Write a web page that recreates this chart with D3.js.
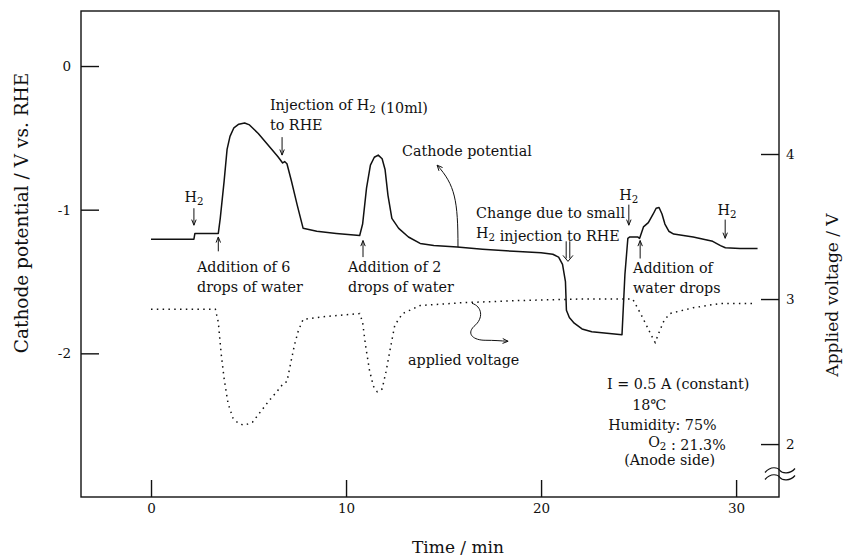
<!DOCTYPE html>
<html>
<head>
<meta charset="utf-8">
<script src="https://cdn.jsdelivr.net/npm/d3@7"></script>
<style>
  html, body { margin: 0; padding: 0; background: #fff; }
  svg { display: block; }
  text { font-family: "DejaVu Serif", "Liberation Serif", serif; fill: #111; }
</style>
</head>
<body>
<svg id="chart" width="845" height="558"></svg>
<script>
// ---------------- data ----------------
// Cathode potential (V vs. RHE), left axis
const cathodeTime = [0, 2.2, 2.25, 3.45, 3.55, 3.75, 3.9, 4.05, 4.25, 4.5, 4.8, 5.05, 5.5, 6.0, 6.5, 6.75, 6.85, 6.97, 7.2, 7.5, 7.8, 8.5, 9.5, 10.7, 10.85, 11.05, 11.25, 11.45, 11.65, 11.85, 12.0, 12.15, 12.35, 12.7, 13.2, 13.8, 14.5, 15.7, 17, 18.6, 20, 20.6, 20.9, 21.1, 21.25, 21.3, 21.45, 21.7, 22.1, 22.6, 24.15, 24.3, 24.45, 24.55, 24.95, 25.05, 25.15, 25.25, 25.5, 25.75, 25.9, 26.05, 26.2, 26.35, 26.55, 26.8, 27.8, 28.8, 29.2, 29.45, 30.2, 31.1];
const cathodeValue = [-1.205, -1.205, -1.165, -1.165, -1.06, -0.8, -0.58, -0.49, -0.43, -0.405, -0.397, -0.41, -0.47, -0.55, -0.63, -0.675, -0.665, -0.68, -0.8, -0.97, -1.13, -1.15, -1.165, -1.18, -1.1, -0.85, -0.69, -0.635, -0.62, -0.645, -0.72, -0.9, -1.06, -1.13, -1.19, -1.235, -1.25, -1.26, -1.275, -1.29, -1.3, -1.31, -1.33, -1.38, -1.5, -1.7, -1.75, -1.79, -1.83, -1.85, -1.87, -1.45, -1.2, -1.19, -1.19, -1.2, -1.16, -1.12, -1.09, -1.03, -0.99, -0.985, -1.03, -1.1, -1.15, -1.17, -1.19, -1.22, -1.25, -1.265, -1.27, -1.27];

// Applied voltage (V), right axis
const voltageTime = [0, 3.3, 3.45, 3.6, 3.75, 3.95, 4.2, 4.5, 4.8, 5.2, 5.6, 6.0, 6.5, 6.8, 6.97, 7.15, 7.35, 7.55, 7.8, 9, 10.7, 10.85, 11.0, 11.2, 11.4, 11.6, 11.85, 12.05, 12.3, 12.5, 12.9, 13.8, 16, 19, 22, 24.7, 25.1, 25.4, 25.65, 25.85, 26.05, 26.3, 26.6, 27.8, 29.2, 30.9];
const voltageValue = [2.93, 2.93, 2.84, 2.62, 2.45, 2.28, 2.18, 2.14, 2.13, 2.15, 2.22, 2.29, 2.37, 2.42, 2.43, 2.55, 2.68, 2.78, 2.86, 2.88, 2.9, 2.84, 2.68, 2.51, 2.4, 2.36, 2.38, 2.5, 2.68, 2.82, 2.9, 2.955, 2.975, 2.99, 3.0, 3.0, 2.9, 2.82, 2.75, 2.7, 2.77, 2.85, 2.9, 2.94, 2.97, 2.97];

// tick values
const xTicks = [0, 10, 20, 30];
const leftTicks = [0, -1, -2];
const rightTicks = [2, 3, 4];

// axis titles
const xTitle = "Time / min";
const leftTitle = "Cathode potential / V vs. RHE";
const rightTitle = "Applied voltage / V";

// annotation texts (placed in data coordinates, left axis); "_2" marks a subscript
const noteTexts = [
  { lines: ["H_2"], t: 2.2, v: -0.948, anchor: "middle" },
  { lines: ["Addition of 6", "drops of water"], t: 2.36, v: -1.436, anchor: "start" },
  { lines: ["Injection of H_2 (10ml)", "to RHE"], t: 6.1, v: -0.307, anchor: "start" },
  { lines: ["Cathode potential"], t: 12.87, v: -0.627, anchor: "start" },
  { lines: ["Addition of 2", "drops of water"], t: 10.1, v: -1.436, anchor: "start" },
  { lines: ["Change due to small", "H_2 injection to RHE"], t: 16.67, v: -1.059, anchor: "start" },
  { lines: ["H_2"], t: 24.5, v: -0.934, anchor: "middle" },
  { lines: ["Addition of", "water drops"], t: 24.72, v: -1.443, anchor: "start" },
  { lines: ["H_2"], t: 29.54, v: -1.038, anchor: "middle" },
  { lines: ["applied voltage"], t: 13.18, v: -2.084, anchor: "start" }
];
const conditionLines = [
  { text: "I = 0.5 A (constant)", t: 23.38, v: -2.251 },
  { text: "18℃", t: 24.67, v: -2.397 },
  { text: "Humidity: 75%", t: 23.44, v: -2.537 },
  { text: "O_2 : 21.3%", t: 25.49, v: -2.655 },
  { text: "(Anode side)", t: 24.26, v: -2.78 }
];
// straight arrows: from (t1,v1) to (t2,v2), head at the end
const arrows = [
  { t1: 2.2, v1: -0.99, t2: 2.2, v2: -1.108 },
  { t1: 3.45, v1: -1.29, t2: 3.45, v2: -1.19 },
  { t1: 6.72, v1: -0.495, t2: 6.72, v2: -0.62 },
  { t1: 10.87, v1: -1.33, t2: 10.87, v2: -1.215 },
  { t1: 24.5, v1: -0.965, t2: 24.5, v2: -1.108 },
  { t1: 25.08, v1: -1.34, t2: 25.08, v2: -1.215 },
  { t1: 29.44, v1: -1.069, t2: 29.44, v2: -1.199 }
];
const doubleArrows = [ { t: 21.38, v1: -1.22, v2: -1.36 } ];
// curved pointer arrows (cubic Bezier chains, data coordinates)
const curvedArrows = [
  [[15.74, -1.261], [15.74, -0.934], [15.59, -0.829], [14.67, -0.690]],
  [[16.46, -1.652], [16.97, -1.672], [17.08, -1.756], [16.56, -1.812],
   [16.15, -1.868], [16.56, -1.909], [17.13, -1.909],
   [17.6, -1.909], [17.9, -1.913], [18.31, -1.916]]
];

// ---------------- drawing ----------------
const svg = d3.select("#chart");
svg.append("rect").attr("width", 845).attr("height", 558).attr("fill", "#fff");

const mLeft = 81, mRight = 779, mTop = 11, mBottom = 497;
const x = d3.scaleLinear().domain([-3.59, 32.2]).range([mLeft, mRight]);
const yL = d3.scaleLinear().domain([-3.0, 0.383]).range([mBottom, mTop]);
const yR = d3.scaleLinear().domain([1.635, 4.986]).range([mBottom, mTop]);

const ink = "#111";

// frame
svg.append("rect")
  .attr("x", mLeft).attr("y", mTop)
  .attr("width", mRight - mLeft).attr("height", mBottom - mTop)
  .attr("fill", "none").attr("stroke", ink).attr("stroke-width", 1.4);

function styleAxis(g, size) {
  g.select(".domain").remove();
  g.selectAll(".tick line").attr("stroke", ink).attr("stroke-width", 1.4);
  g.selectAll(".tick text").attr("font-family", "DejaVu Serif, serif")
    .attr("font-size", size).attr("fill", ink);
}

const fmt = d => (d < 0 ? "-" + Math.abs(d) : String(d));

svg.append("g").attr("transform", `translate(0,${mBottom})`)
  .call(d3.axisBottom(x).tickValues(xTicks).tickSize(-17).tickPadding(6).tickFormat(fmt))
  .call(g => styleAxis(g, 13.5));

svg.append("g").attr("transform", `translate(${mLeft},0)`)
  .call(d3.axisLeft(yL).tickValues(leftTicks).tickSize(-18).tickPadding(10).tickFormat(fmt))
  .call(g => styleAxis(g, 13.5));

svg.append("g").attr("transform", `translate(${mRight},0)`)
  .call(d3.axisRight(yR).tickValues(rightTicks).tickSize(-18).tickPadding(7).tickFormat(fmt))
  .call(g => styleAxis(g, 13.5));

// axis break mark on right axis
[470.5, 477.5].forEach(yy => {
  svg.append("path")
    .attr("d", `M765,${yy + 2} C771,${yy - 5} 778,${yy - 3} 780,${yy} S790,${yy + 4} 795,${yy - 2}`)
    .attr("fill", "none").attr("stroke", ink).attr("stroke-width", 1.2);
});

// axis titles
svg.append("text").attr("x", 458).attr("y", 553).attr("text-anchor", "middle")
  .attr("font-size", 17).text(xTitle);
svg.append("text").attr("transform", `translate(28,213) rotate(-90)`)
  .attr("text-anchor", "middle").attr("font-size", 18.5).text(leftTitle);
svg.append("text").attr("transform", `translate(838,295) rotate(-90)`)
  .attr("text-anchor", "middle").attr("font-size", 17).text(rightTitle);

// series
const cathode = cathodeTime.map((t, i) => [t, cathodeValue[i]]);
const voltage = voltageTime.map((t, i) => [t, voltageValue[i]]);

svg.append("path").datum(cathode)
  .attr("d", d3.line().x(d => x(d[0])).y(d => yL(d[1])).curve(d3.curveLinear))
  .attr("fill", "none").attr("stroke", ink).attr("stroke-width", 1.5)
  .attr("stroke-linejoin", "round");

svg.append("path").datum(voltage)
  .attr("d", d3.line().x(d => x(d[0])).y(d => yR(d[1])).curve(d3.curveLinear))
  .attr("fill", "none").attr("stroke", ink).attr("stroke-width", 1.5)
  .attr("stroke-dasharray", "1.5,4.3");

// annotations with subscript support
function richText(sel, str) {
  const parts = str.split(/_(\d)/);
  parts.forEach((p, i) => {
    if (p === "") return;
    if (i % 2 === 1) {
      sel.append("tspan").attr("font-size", "0.72em").attr("dy", 3).text(p);
      // reset baseline for following text
      sel.append("tspan").attr("dy", -3).text("");
    } else {
      sel.append("tspan").text(p);
    }
  });
}

const noteG = svg.append("g").attr("font-size", 14.3);
noteTexts.forEach(n => {
  n.lines.forEach((ln, i) => {
    const t = noteG.append("text")
      .attr("x", x(n.t)).attr("y", yL(n.v) + i * 20)
      .attr("text-anchor", n.anchor);
    richText(t, ln);
  });
});
conditionLines.forEach(c => {
  const t = noteG.append("text").attr("x", x(c.t)).attr("y", yL(c.v));
  richText(t, c.text);
});

function head(px, py, angle, len, spread) {
  const a1 = angle + Math.PI - spread, a2 = angle + Math.PI + spread;
  return `M${px + len * Math.cos(a1)},${py + len * Math.sin(a1)} L${px},${py} L${px + len * Math.cos(a2)},${py + len * Math.sin(a2)}`;
}

arrows.forEach(a => {
  const x1 = x(a.t1), y1 = yL(a.v1), x2 = x(a.t2), y2 = yL(a.v2);
  const ang = Math.atan2(y2 - y1, x2 - x1);
  svg.append("path")
    .attr("d", `M${x1},${y1} L${x2},${y2} ` + head(x2, y2, ang, 6, 0.38))
    .attr("fill", "none").attr("stroke", ink).attr("stroke-width", 1);
});

doubleArrows.forEach(a => {
  const cx = x(a.t), y1 = yL(a.v1), y2 = yL(a.v2);
  svg.append("path")
    .attr("d", `M${cx - 1.8},${y1} L${cx - 1.8},${y2 - 3} M${cx + 1.8},${y1} L${cx + 1.8},${y2 - 3} M${cx - 5},${y2 - 6} L${cx},${y2} L${cx + 5},${y2 - 6}`)
    .attr("fill", "none").attr("stroke", ink).attr("stroke-width", 1);
});

curvedArrows.forEach(pts => {
  const p = pts.map(d => [x(d[0]), yL(d[1])]);
  let d = `M${p[0][0]},${p[0][1]}`;
  for (let i = 1; i + 2 < p.length; i += 3) {
    d += ` C${p[i][0]},${p[i][1]} ${p[i + 1][0]},${p[i + 1][1]} ${p[i + 2][0]},${p[i + 2][1]}`;
  }
  const end = p[p.length - 1], prev = p[p.length - 2];
  const ang = Math.atan2(end[1] - prev[1], end[0] - prev[0]);
  svg.append("path").attr("d", d)
    .attr("fill", "none").attr("stroke", ink).attr("stroke-width", 1);
  svg.append("path").attr("d", head(end[0], end[1], ang, 6, 0.42))
    .attr("fill", "none").attr("stroke", ink).attr("stroke-width", 1);
});
</script>
</body>
</html>
